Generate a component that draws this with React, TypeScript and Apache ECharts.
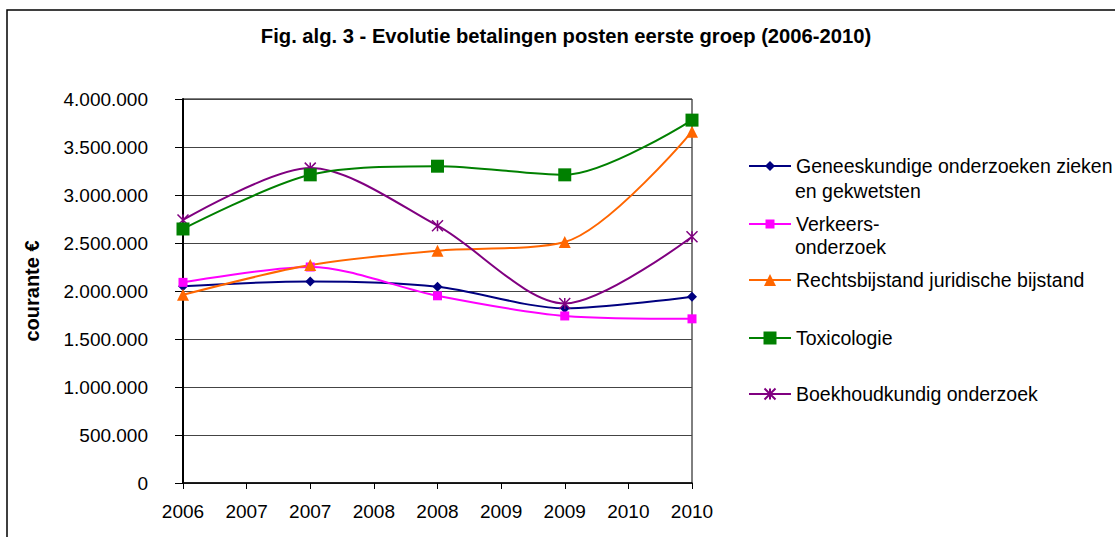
import React, { useEffect, useRef } from "react";
import * as echarts from "echarts";

const years = [2006, 2007, 2008, 2009, 2010];
const tickLabels = ["2006", "2007", "2007", "2008", "2008", "2009", "2009", "2010", "2010"];
const geneeskundige = [2050000, 2100000, 2045000, 1820000, 1940000];
const verkeers = [2090000, 2250000, 1950000, 1740000, 1710000];
const rechtsbijstand = [1960000, 2270000, 2420000, 2510000, 3660000];
const toxicologie = [2646000, 3210000, 3300000, 3210000, 3780000];
const boekhoudkundig = [2740000, 3280000, 2680000, 1870000, 2565000];

const seriesNames = [
  "Geneeskundige onderzoeken zieken en gekwetsten",
  "Verkeers-onderzoek",
  "Rechtsbijstand juridische bijstand",
  "Toxicologie",
  "Boekhoudkundig onderzoek",
];
const legendLines = [
  ["Geneeskundige onderzoeken zieken", "en gekwetsten"],
  ["Verkeers-", "onderzoek"],
  ["Rechtsbijstand juridische bijstand"],
  ["Toxicologie"],
  ["Boekhoudkundig onderzoek"],
];
const seriesValues = [geneeskundige, verkeers, rechtsbijstand, toxicologie, boekhoudkundig];

const FONT = "'Liberation Sans', Arial, sans-serif";

export default function App() {
  const ref = useRef<HTMLDivElement>(null);
  useEffect(() => {
    if (!ref.current) return;
    const chart = echarts.init(ref.current, undefined, { renderer: "svg" });

    const colors = ["#000080", "#FF00FF", "#FF6600", "#008000", "#800080"];
    const symbols = [
      "diamond",
      "rect",
      "triangle",
      "rect",
      "path://M0,0L10,10M10,0L0,10M5,0L5,10",
    ];
    const sizes = [10, 9, 12, 13, 11];
    const legendY = [166, 224, 280, 338, 394];
    const secondLineY = [191, 247];

    const series = seriesValues.map((vals, i) => ({
      name: seriesNames[i],
      type: "line",
      smooth: 0.3,
      data: vals.map((v, j) => [years[j], v]),
      symbol: symbols[i],
      symbolSize: sizes[i],
      showSymbol: true,
      lineStyle: { color: colors[i], width: 2 },
      itemStyle:
        i === 4
          ? { color: colors[i], borderColor: colors[i], borderWidth: 1.5 }
          : { color: colors[i], borderWidth: 0 },
      emphasis: { disabled: true },
      z: i === 3 ? 3 : 2,
    }));

    const legends = seriesNames.map((name, i) => ({
      show: true,
      data: [name],
      orient: "vertical",
      left: 748,
      top: legendY[i] - 11,
      padding: 0,
      itemWidth: 42,
      itemHeight: sizes[i] / 0.8,
      itemGap: 0,
      selectedMode: false,
      formatter: () => legendLines[i][0],
      textStyle: { fontFamily: FONT, fontSize: 19.5, color: "#000", lineHeight: 22, padding: [0, 0, 0, 0] },
    }));

    const secondLines = [0, 1].map((i) => ({
      type: "text",
      left: 795,
      top: secondLineY[i] - 11,
      style: {
        text: legendLines[i][1],
        fontFamily: FONT,
        fontSize: 19.5,
        lineHeight: 22,
        fill: "#000",
      },
    }));

    chart.setOption({
      animation: false,
      title: {
        text: "Fig. alg. 3 - Evolutie betalingen posten eerste groep (2006-2010)",
        left: 566,
        top: 26,
        textAlign: "center",
        padding: 0,
        textStyle: { fontFamily: FONT, fontSize: 20.2, fontWeight: "bold", color: "#000" },
      },
      legend: legends,
      graphic: [
        {
          type: "rect",
          shape: { x: 7, y: 10, width: 1120, height: 600 },
          style: { fill: "none", stroke: "#000", lineWidth: 1.5 },
          silent: true,
          z: -10,
        },
        ...secondLines,
      ],
      grid: {
        left: 183,
        right: 1115 - 692,
        top: 99,
        bottom: 537 - 483,
        show: true,
        borderColor: "#000",
        borderWidth: 1,
        backgroundColor: "transparent",
      },
      xAxis: {
        type: "value",
        min: 2006,
        max: 2010,
        interval: 0.5,
        axisLine: { show: true, lineStyle: { color: "#000", width: 1.5 } },
        axisTick: { show: true, length: 6, lineStyle: { color: "#000", width: 1 } },
        splitLine: { show: false },
        axisLabel: {
          margin: 19,
          fontFamily: FONT,
          fontSize: 19,
          color: "#000",
          formatter: (v: number) => tickLabels[Math.round((v - 2006) * 2)] ?? "",
        },
      },
      yAxis: {
        type: "value",
        min: 0,
        max: 4000000,
        interval: 500000,
        name: "courante €",
        nameLocation: "middle",
        nameGap: 141,
        nameTextStyle: { fontFamily: FONT, fontSize: 20, fontWeight: "bold", color: "#000" },
        axisLine: { show: true, lineStyle: { color: "#000", width: 2 } },
        axisTick: { show: true, length: 8, lineStyle: { color: "#000", width: 1 } },
        splitLine: { show: true, lineStyle: { color: "#444", width: 1 } },
        axisLabel: {
          margin: 35,
          fontFamily: FONT,
          fontSize: 19,
          color: "#000",
          formatter: (v: number) => String(v).replace(/\B(?=(\d{3})+(?!\d))/g, "."),
        },
      },
      series,
    });
    return () => chart.dispose();
  }, []);
  return (
    <div
      ref={ref}
      style={{ position: "fixed", left: 0, top: 0, width: 1115, height: 537, background: "#fff" }}
    />
  );
}
